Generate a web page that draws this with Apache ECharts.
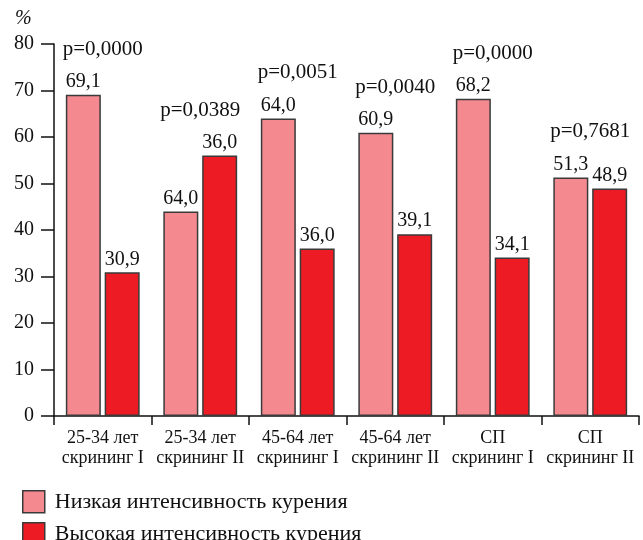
<!DOCTYPE html>
<html>
<head>
<meta charset="utf-8">
<script src="https://cdn.jsdelivr.net/npm/echarts@6/dist/echarts.min.js"></script>
<style>
  html, body { margin: 0; padding: 0; background: #fff; }
  #chart { width: 643px; height: 540px; }
</style>
</head>
<body>
<div id="chart"></div>
<script>
// categories on the x axis
const categories = [
  '25-34 лет\nскрининг I', '25-34 лет\nскрининг II',
  '45-64 лет\nскрининг I', '45-64 лет\nскрининг II',
  'СП\nскрининг I', 'СП\nскрининг II'
]
// bar heights as drawn
const lowValues = [69.1, 44.0, 64.0, 60.9, 68.2, 51.3]
const highValues = [30.9, 56.0, 36.0, 39.1, 34.1, 48.9]
// printed labels (the second group is printed this way in the original)
const lowLabels = ['69,1', '64,0', '64,0', '60,9', '68,2', '51,3']
const highLabels = ['30,9', '36,0', '36,0', '39,1', '34,1', '48,9']
const pLabels = ['p=0,0000', 'p=0,0389', 'p=0,0051', 'p=0,0040', 'p=0,0000', 'p=0,7681']
const seriesNames = ['Низкая интенсивность курения', 'Высокая интенсивность курения']

const serif = 'Liberation Serif'
const pinkColor = '#F48A8F'
const redColor = '#ED1C24'
const borderColor = '#3a3a3a'

const topValues = lowValues.map((v, i) => Math.max(v, highValues[i]))

// one legend per item so they stack (the vertical legend would wrap at the bottom edge)
function makeLegend (name, top) {
  return {
    data: [name],
    left: 17,
    top: top,
    icon: 'rect',
    itemWidth: 22,
    itemHeight: 22,
    itemStyle: { borderColor: borderColor, borderWidth: 1.5 },
    textStyle: { fontFamily: serif, fontSize: 22, color: '#111', padding: [0, 0, 0, 5] }
  }
}

const chart = echarts.init(document.getElementById('chart'))
const option = {
  animation: false,
  textStyle: { fontFamily: serif, color: '#111' },
  grid: { left: 54, right: 4, top: 44, bottom: 124 },
  graphic: [
    {
      type: 'text', left: 15, top: 9,
      style: { text: '%', font: 'italic 20px "Liberation Serif"', fill: '#111' }
    }
  ],
  legend: [makeLegend(seriesNames[0], 485), makeLegend(seriesNames[1], 517)],
  xAxis: {
    type: 'category',
    data: categories,
    axisLine: { lineStyle: { color: '#111', width: 1.5 } },
    axisTick: { show: true, length: 9, inside: false, lineStyle: { color: '#111', width: 1.5 } },
    axisLabel: {
      interval: 0, margin: 12, fontFamily: serif, fontSize: 18, color: '#111', lineHeight: 20
    }
  },
  yAxis: {
    type: 'value',
    min: 0,
    max: 80,
    interval: 10,
    splitLine: { show: false },
    axisLine: { show: true, lineStyle: { color: '#111', width: 1.5 } },
    axisTick: { show: true, length: 13, lineStyle: { color: '#111', width: 1.5 } },
    axisLabel: { margin: 20, fontFamily: serif, fontSize: 20, color: '#111' }
  },
  series: [
    {
      name: seriesNames[0],
      type: 'bar',
      data: lowValues,
      barWidth: 35,
      barGap: '11%',
      itemStyle: { color: pinkColor, borderColor: borderColor, borderWidth: 1.5 },
      label: {
        show: true, position: 'top', distance: 3,
        fontFamily: serif, fontSize: 20, color: '#111',
        formatter: (p) => lowLabels[p.dataIndex]
      }
    },
    {
      name: seriesNames[1],
      type: 'bar',
      data: highValues,
      barWidth: 35,
      itemStyle: { color: redColor, borderColor: borderColor, borderWidth: 1.5 },
      label: {
        show: true, position: 'top', distance: 3,
        fontFamily: serif, fontSize: 20, color: '#111',
        formatter: (p) => highLabels[p.dataIndex]
      }
    },
    {
      name: 'p',
      type: 'scatter',
      data: topValues,
      symbolSize: 0,
      silent: true,
      itemStyle: { opacity: 1 },
      label: {
        show: true, position: 'top', distance: 35,
        fontFamily: serif, fontSize: 21, color: '#111',
        formatter: (p) => pLabels[p.dataIndex]
      }
    }
  ]
}
chart.setOption(option)
</script>
</body>
</html>
